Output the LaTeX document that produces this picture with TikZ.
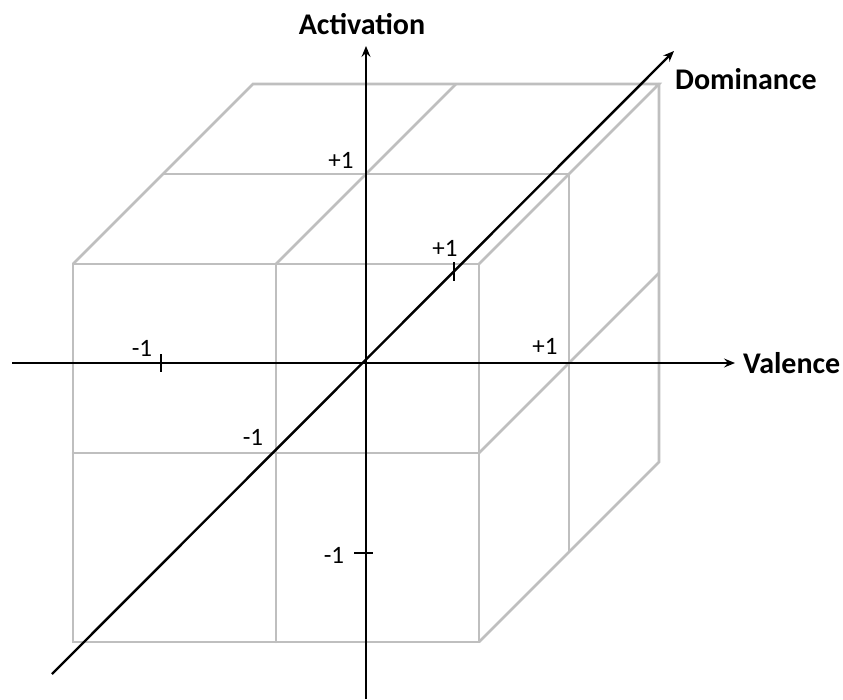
\documentclass[tikz,border=0pt]{standalone}
\usepackage{fontspec}
\setmainfont{Carlito}
\usetikzlibrary{arrows.meta}
\definecolor{gridgray}{RGB}{191,191,191}
\tikzset{
  grid/.style={draw=gridgray, line width=2.6pt, line cap=round, line join=miter},
  axis/.style={draw=black, line width=2.4pt, -{Stealth[length=11pt,width=9pt,inset=4pt]}},
  tickmark/.style={draw=black, line width=2.4pt},
  axislabel/.style={inner sep=0pt, font=\fontsize{30}{34}\selectfont\bfseries},
  numlabel/.style={inner sep=0pt, font=\fontsize{25}{29}\selectfont},
}
\begin{document}
\begin{tikzpicture}[x=1pt,y=-1pt]
\useasboundingbox (0,0) rectangle (843,699);
% cube corners
\coordinate (FTL) at (73,264);
\coordinate (FTM) at (276,264);
\coordinate (FTR) at (479,264);
\coordinate (FML) at (73,453);
\coordinate (FMR) at (479,453);
\coordinate (FBL) at (73,642);
\coordinate (FBM) at (276,642);
\coordinate (FBR) at (479,642);
\coordinate (MTL) at (163,174);
\coordinate (MTR) at (569,174);
\coordinate (MBR) at (569,552);
\coordinate (BTL) at (253,84);
\coordinate (BTM) at (456,84);
\coordinate (BTR) at (659,84);
\coordinate (BMR) at (659,273);
\coordinate (BBR) at (659,462);
% grid lines
\draw[grid] (FTL) -- (FTR) -- (FBR) -- (FBL) -- cycle;
\draw[grid] (FTM) -- (FBM);
\draw[grid] (FML) -- (FMR);
\draw[grid] (FTL) -- (BTL) -- (BTR) -- (FTR);
\draw[grid] (FTM) -- (BTM);
\draw[grid] (MTL) -- (MTR);
\draw[grid] (BTR) -- (BBR) -- (FBR);
\draw[grid] (MTR) -- (MBR);
\draw[grid] (FMR) -- (BMR);
% axes
\coordinate (O) at (366,363);
\coordinate (Vs) at (12,363);
\coordinate (Ve) at (735,363);
\coordinate (As) at (366,699);
\coordinate (Ae) at (366,46);
\coordinate (Ds) at (52,674);
\coordinate (De) at (674,51);
\draw[axis] (Vs) -- (Ve);
\draw[axis] (As) -- (Ae);
\draw[axis] (Ds) -- (De);
% ticks
\coordinate (VmT) at (161,354);
\coordinate (VmB) at (161,372);
\coordinate (AmL) at (354,553);
\coordinate (AmR) at (373,553);
\coordinate (DpT) at (454,262);
\coordinate (DpB) at (454,281);
\draw[tickmark] (VmT) -- (VmB);
\draw[tickmark] (AmL) -- (AmR);
\draw[tickmark] (DpT) -- (DpB);
% labels
\node[axislabel, anchor=base] (Alab) at (362,34) {Activation};
\node[axislabel, anchor=base west] (Dlab) at (675,89) {Dominance};
\node[axislabel, anchor=base west] (Vlab) at (743,373) {Valence};
\node[numlabel] (vm) at (142,348) {-1};
\node[numlabel] (vp) at (545,346) {+1};
\node[numlabel] (ap) at (341,160) {+1};
\node[numlabel] (am) at (334,555) {-1};
\node[numlabel] (dp) at (445,248) {+1};
\node[numlabel] (dm) at (253,437) {-1};
\end{tikzpicture}
\end{document}
